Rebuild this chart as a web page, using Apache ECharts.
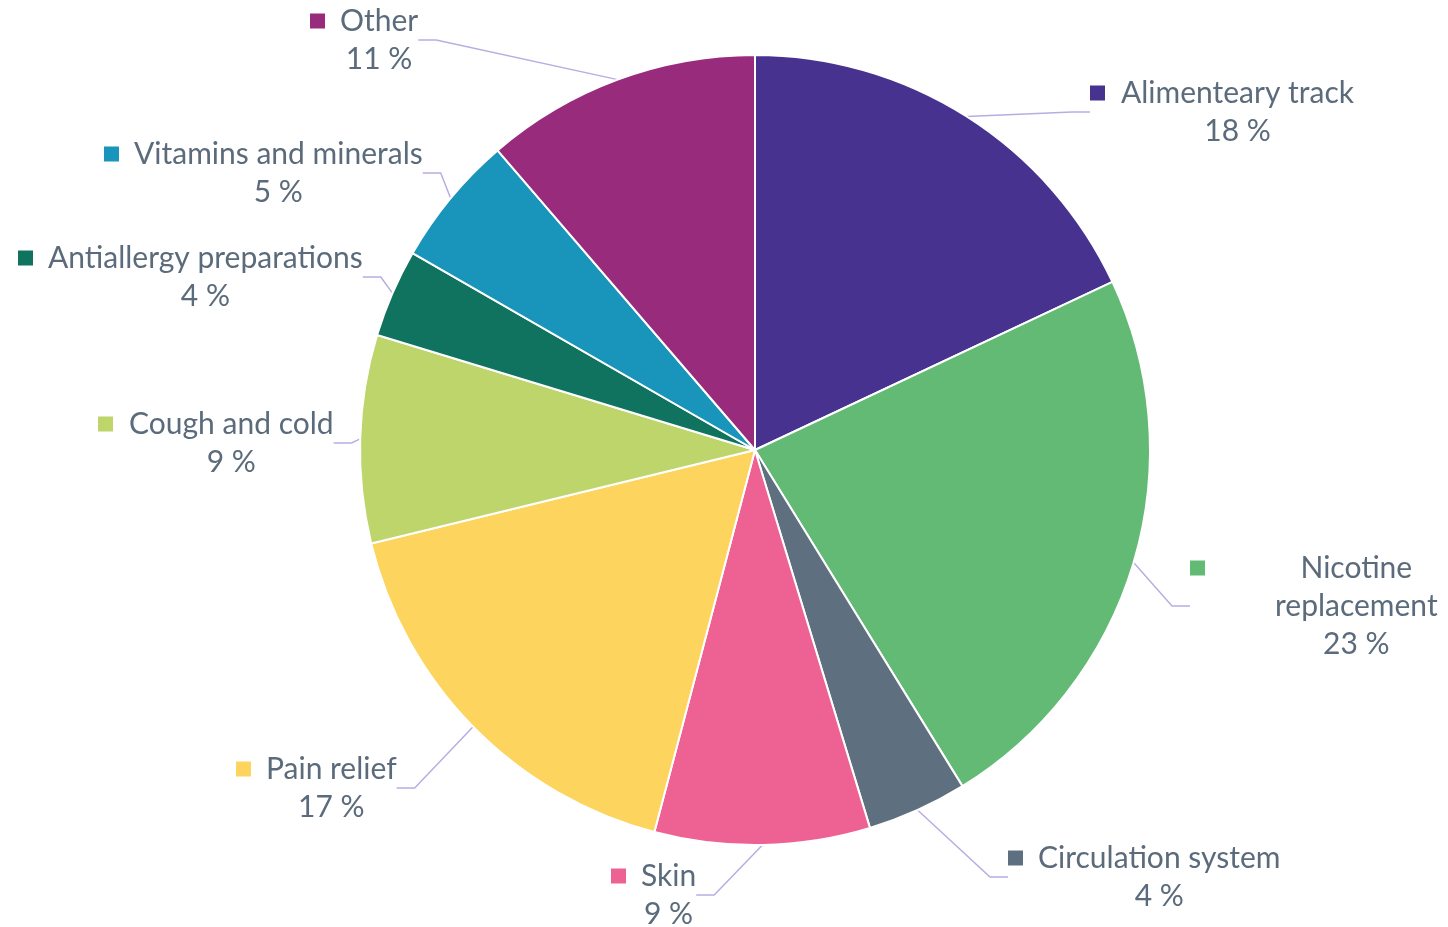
<!DOCTYPE html>
<html>
<head>
<meta charset="utf-8">
<script src="https://cdn.jsdelivr.net/npm/echarts@6/dist/echarts.min.js"></script>
<style>
html, body { margin: 0; background: #fff; }
#pie { width: 1448px; height: 927px; }
</style>
</head>
<body>
<div id="pie"></div>
<script>
// categories, clockwise from 12 o'clock
var names = ['Alimenteary track', 'Nicotine\nreplacement', 'Circulation system', 'Skin', 'Pain relief',
    'Cough and cold', 'Antiallergy preparations', 'Vitamins and minerals', 'Other'];
// shares (%)
var values = [18.0, 23.2, 4.1, 8.8, 17.1, 8.5, 3.6, 5.4, 11.3];
var colors = ['#47338f', '#63ba75', '#5e6f7f', '#ee6193', '#fcd45e', '#bdd56a', '#107360', '#1994bb', '#982b7c'];

// where each label block sits (left of the key square, top of first line) and key->text gap
var labelLeft = [1090, 1190, 1008, 611, 236, 98, 18, 104, 310];
var labelTop = [74, 549, 839, 857, 750, 405, 239, 135, 2];
var keyGap = [16, 70, 15, 15, 15, 16, 15, 15, 15];

var myChart = echarts.init(document.getElementById('pie'));

var data = names.map(function (n, i) {
    return {
        name: n,
        value: values[i],
        itemStyle: { color: colors[i] },
        label: {
            rich: {
                sq: { width: 15, height: 15, backgroundColor: colors[i], align: 'left' },
                gap: { width: keyGap[i], align: 'left' },
                sp: { width: 15 + keyGap[i], align: 'left' }
            }
        }
    };
});

myChart.setOption({
    animation: false,
    series: [{
        type: 'pie',
        center: [755, 450],
        radius: 395,
        startAngle: 90,
        clockwise: true,
        percentPrecision: 0,
        avoidLabelOverlap: false,
        data: data,
        itemStyle: {
            borderColor: '#fff',
            borderWidth: 2
        },
        label: {
            show: true,
            position: 'outside',
            fontFamily: 'Lato',
            fontSize: 30,
            color: '#5b6b7b',
            lineHeight: 38,
            formatter: function (p) {
                var lines = p.name.split('\n');
                var s = '{sq|}{gap|}{nm|' + lines[0] + '}';
                for (var k = 1; k < lines.length; k++) {
                    s += '\n{sp|}{nm|' + lines[k] + '}';
                }
                return s + '\n{sp|}{nm|' + p.percent + ' %}';
            },
            rich: {
                nm: { fontFamily: 'Lato', fontSize: 30, color: '#5b6b7b', lineHeight: 38, align: 'center' }
            }
        },
        labelLine: {
            show: true,
            length: 20,
            length2: 18,
            lineStyle: { color: '#b8ade2', width: 1.5 }
        },
        labelLayout: function (params) {
            var i = params.dataIndex;
            return {
                x: labelLeft[i],
                y: labelTop[i],
                align: 'left',
                verticalAlign: 'top'
            };
        }
    }]
});
</script>
</body>
</html>
